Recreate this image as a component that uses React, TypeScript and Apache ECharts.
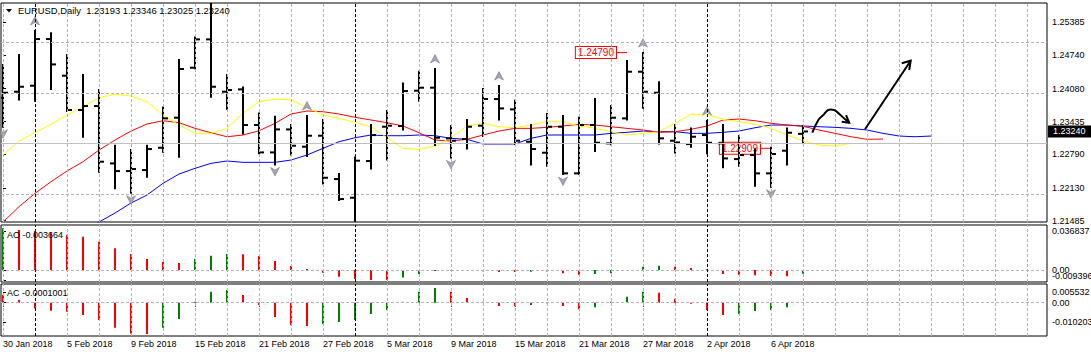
import React, { useEffect, useRef } from "react";
import * as echarts from "echarts";

const FONT = "'Liberation Sans', Arial, sans-serif";
const symbolName = "EURUSD";
const timeframe = "Daily";

const dates = [
  "30 Jan 2018", "31 Jan 2018", "1 Feb 2018", "2 Feb 2018", "5 Feb 2018", "6 Feb 2018", "7 Feb 2018", "8 Feb 2018",
  "9 Feb 2018", "12 Feb 2018", "13 Feb 2018", "14 Feb 2018", "15 Feb 2018", "16 Feb 2018", "19 Feb 2018", "20 Feb 2018",
  "21 Feb 2018", "22 Feb 2018", "23 Feb 2018", "26 Feb 2018", "27 Feb 2018", "28 Feb 2018", "1 Mar 2018", "2 Mar 2018",
  "5 Mar 2018", "6 Mar 2018", "7 Mar 2018", "8 Mar 2018", "9 Mar 2018", "12 Mar 2018", "13 Mar 2018", "14 Mar 2018",
  "15 Mar 2018", "16 Mar 2018", "19 Mar 2018", "20 Mar 2018", "21 Mar 2018", "22 Mar 2018", "23 Mar 2018", "26 Mar 2018",
  "27 Mar 2018", "28 Mar 2018", "29 Mar 2018", "30 Mar 2018", "2 Apr 2018", "3 Apr 2018", "4 Apr 2018", "5 Apr 2018",
  "6 Apr 2018", "9 Apr 2018", "10 Apr 2018",
];

const opens = [
  1.2390, 1.24021, 1.24139, 1.25056, 1.24336, 1.23661, 1.23739, 1.22612, 1.22461, 1.22481,
  1.22920, 1.23510, 1.24493, 1.25050, 1.24021, 1.24067, 1.23366, 1.22828, 1.23280, 1.22940,
  1.23156, 1.22304, 1.21937, 1.22658, 1.23333, 1.23346, 1.24041, 1.24100, 1.23104, 1.23091,
  1.23353, 1.23877, 1.23674, 1.23038, 1.22822, 1.23333, 1.22416, 1.23366, 1.23005, 1.23497,
  1.24414, 1.24001, 1.23058, 1.22992, 1.23169, 1.23005, 1.22697, 1.22776, 1.22416, 1.22861,
  1.23193,
];
const highs = [
  1.24545, 1.24742, 1.25214, 1.25168, 1.24742, 1.24349, 1.24054, 1.22959, 1.22874, 1.22959,
  1.23713, 1.24644, 1.25089, 1.25760, 1.24349, 1.24106, 1.23595, 1.23530, 1.23366, 1.23543,
  1.23464, 1.22402, 1.22730, 1.23366, 1.23641, 1.24185, 1.24414, 1.24467, 1.23346, 1.23464,
  1.24073, 1.24132, 1.23844, 1.23366, 1.23582, 1.23543, 1.23510, 1.23877, 1.23739, 1.24624,
  1.24780, 1.24205, 1.23366, 1.23300, 1.23444, 1.23366, 1.23150, 1.22887, 1.22920, 1.23300,
  1.23346,
];
const lows = [
  1.23333, 1.23870, 1.23844, 1.24073, 1.23641, 1.23136, 1.22448, 1.22121, 1.22036, 1.22350,
  1.22841, 1.22743, 1.24480, 1.23923, 1.23680, 1.23202, 1.22809, 1.22592, 1.22789, 1.22756,
  1.22219, 1.21891, 1.21490, 1.22514, 1.22691, 1.23280, 1.23844, 1.22973, 1.22730, 1.22907,
  1.23150, 1.23477, 1.22992, 1.22592, 1.22566, 1.22402, 1.22402, 1.22855, 1.22986, 1.23477,
  1.23707, 1.23005, 1.22828, 1.22940, 1.22809, 1.22534, 1.22566, 1.22173, 1.22153, 1.22592,
  1.23025,
];
const closes = [
  1.24001, 1.24119, 1.25056, 1.24558, 1.23661, 1.23739, 1.22645, 1.22461, 1.22501, 1.22894,
  1.23497, 1.24467, 1.25050, 1.24119, 1.24054, 1.23366, 1.22828, 1.23280, 1.22959, 1.23156,
  1.22330, 1.21911, 1.22665, 1.23169, 1.23353, 1.24034, 1.24100, 1.23117, 1.23058, 1.23333,
  1.23877, 1.23693, 1.23058, 1.22894, 1.23333, 1.22416, 1.23366, 1.23018, 1.23510, 1.24414,
  1.24021, 1.23104, 1.23025, 1.23136, 1.23018, 1.22710, 1.22776, 1.22416, 1.22796, 1.23215,
  1.23240,
];

// Alligator lines (shifted forward: lips 3, teeth 5, jaw 8 bars)
const lipsYellow = [
  1.22777, 1.23052, 1.23215, 1.23380, 1.23563, 1.23726, 1.23903, 1.23970, 1.23936, 1.23824,
  1.23563, 1.23366, 1.23203, 1.23203, 1.23301, 1.23596, 1.23824, 1.23877, 1.23858, 1.23714,
  1.23563, 1.23498, 1.23419, 1.23333, 1.23117, 1.22908, 1.22889, 1.22953, 1.23117, 1.23347,
  1.23400, 1.23333, 1.23313, 1.23366, 1.23431, 1.23431, 1.23347, 1.23301, 1.23235, 1.23170,
  1.23203, 1.23235, 1.23400, 1.23577, 1.23577, 1.23478, 1.23431, 1.23380, 1.23301, 1.23170,
  1.23058, 1.22973, 1.22953, 1.23007,
];
const teethRed = [
  1.21459, 1.21760, 1.22024, 1.22252, 1.22462, 1.22645, 1.22875, 1.23071, 1.23248, 1.23386,
  1.23451, 1.23412, 1.23301, 1.23215, 1.23136, 1.23170, 1.23254, 1.23400, 1.23583, 1.23642,
  1.23628, 1.23583, 1.23518, 1.23465, 1.23412, 1.23347, 1.23215, 1.23071, 1.23052, 1.23085,
  1.23170, 1.23248, 1.23301, 1.23301, 1.23321, 1.23347, 1.23380, 1.23366, 1.23333, 1.23301,
  1.23268, 1.23223, 1.23235, 1.23282, 1.23347, 1.23465, 1.23484, 1.23451, 1.23400, 1.23366,
  1.23341, 1.23268, 1.23203, 1.23136, 1.23085, 1.23091,
];
const jawBlue = [
  null, null, null, null, null, 1.21302, 1.21459, 1.21636, 1.21833, 1.21990,
  1.22220, 1.22403, 1.22515, 1.22613, 1.22659, 1.22633, 1.22633, 1.22633, 1.22678, 1.22777,
  1.22908, 1.23038, 1.23117, 1.23170, 1.23156, 1.23156, 1.23170, 1.23156, 1.23105, 1.23085,
  1.22993, 1.22993, 1.22993, 1.23105, 1.23170, 1.23170, 1.23170, 1.23170, 1.23203, 1.23223,
  1.23248, 1.23235, 1.23235, 1.23203, 1.23203, 1.23223, 1.23248, 1.23313, 1.23366, 1.23366,
  1.23347, 1.23333, 1.23321, 1.23301, 1.23268, 1.23203, 1.23150, 1.23136, 1.23150,
];

const aoValues = [
  0.0394, 0.0378, 0.0368, 0.0350, 0.0331, 0.0315, 0.0267, 0.0205, 0.0151, 0.0104,
  0.0076, 0.0066, 0.0104, 0.0135, 0.0151, 0.0149, 0.0132, 0.0085, 0.0038, 0.0009,
  -0.0026, -0.0063, -0.0085, -0.0094, -0.0095, -0.0072, -0.0038, -0.0009, -0.0005, -0.0009,
  -0.0013, -0.0019, -0.0020, -0.0016, -0.0014, -0.0031, -0.0047, -0.0038, -0.0031, -0.0006,
  0.0031, 0.0041, 0.0031, 0.0019, 0.0006, -0.0038, -0.0047, -0.0049, -0.0057, -0.0058,
  -0.003664,
];
const acValues = [
  0.0040, 0.0014, -0.0030, -0.0042, -0.0047, -0.0065, -0.0091, -0.0131, -0.0161, -0.0164,
  -0.0131, -0.0086, 0.0005, 0.0058, 0.0066, 0.0040, -0.0012, -0.0075, -0.0117, -0.0122,
  -0.0112, -0.0101, -0.0091, -0.0059, -0.0038, 0.0005, 0.0058, 0.0077, 0.0058, 0.0024,
  0.0005, -0.0017, -0.0018, -0.0012, -0.0003, -0.0017, -0.0035, -0.0024, 0.0005, 0.0031,
  0.0058, 0.0052, 0.0021, -0.0005, -0.0038, -0.0065, -0.0059, -0.0044, -0.0038, -0.0024,
  -0.0001001,
];
const aoFirstRising = true;
const acFirstRising = false;

const priceTicks = [1.21485, 1.2213, 1.2279, 1.23435, 1.2408, 1.2474, 1.25385];
const aoScaleLabels = ["0.036837", "0.00", "-0.009396"];
const acScaleLabels = ["0.005532", "0.00", "-0.010203"];

const upFractals = [2, 13, 19, 27, 31, 40, 44];
const downFractals = [0, 8, 17, 22, 28, 35, 48];

const priceMarks = [
  [39, 1.2479],
  [48, 1.22909],
];

const curvedArrow = [
  [50.58, 1.23215], [50.96, 1.23465], [51.27, 1.23563], [51.58, 1.23662],
  [51.94, 1.23662], [52.27, 1.23582], [52.63, 1.23479], [52.89, 1.23412],
];
const curvedArrowHead = [[52.69, 1.23563], [52.89, 1.23412], [52.42, 1.23432]];
const straightArrow = [[53.875, 1.23282], [56.73, 1.24631]];
const straightArrowHead = [[56.17, 1.2458], [56.73, 1.24631], [56.64, 1.24448]];

const GREEN = "#008000";
const RED = "#ff0000";
const GRID_COLOR = "#b4b4b4";

export default function App() {
  const ref = useRef<HTMLDivElement>(null);

  useEffect(() => {
    const chart = echarts.init(ref.current!, null, { renderer: "svg" });
    const last = closes.length - 1;

    const xMin = -0.125;
    const xMax = 65.25;
    const vGrid: number[] = [];
    for (let k = 0; k <= 64; k += 2) vGrid.push(k);
    const xLabelIdx: number[] = [];
    for (let k = 0; k < dates.length; k += 4) xLabelIdx.push(k);
    const separators: number[] = [];
    for (let k = 1; k < dates.length; k++) {
      if (dates[k].split(" ")[1] !== dates[k - 1].split(" ")[1]) separators.push(k);
    }

    const aoScaleValues = aoScaleLabels.map(Number);
    const acScaleValues = acScaleLabels.map(Number);
    const aoRange = [-0.01134, 0.0425];
    const acRange = [-0.01747, 0.00981];

    const barColors = (vals: number[], firstRising: boolean) =>
      vals.map((v, i) => ((i === 0 ? firstRising : v > vals[i - 1]) ? GREEN : RED));
    const aoColors = barColors(aoValues, aoFirstRising);
    const acColors = barColors(acValues, acFirstRising);

    const gridLineSeries = (gi: number, yLevels: number[], extra: any[] = []) => ({
      type: "line",
      xAxisIndex: gi,
      yAxisIndex: gi,
      data: [],
      silent: true,
      z: 1,
      markLine: {
        silent: true,
        symbol: ["none", "none"],
        animation: false,
        label: { show: false },
        lineStyle: { color: GRID_COLOR, type: [3, 2], width: 1 },
        data: [
          ...vGrid.map((k) => ({ xAxis: k })),
          ...yLevels.map((v) => ({ yAxis: v })),
          ...separators.map((k) => ({ xAxis: k, lineStyle: { color: "#000", type: [3, 2], width: 1 } })),
          ...extra,
        ],
      },
    });

    // scale labels of the sub windows, kept inside their panel like the terminal does
    const scaleLabelSeries = (gi: number, values: number[], labels: string[], range: number[]) => ({
      type: "custom",
      xAxisIndex: gi,
      yAxisIndex: gi,
      clip: false,
      silent: true,
      z: 6,
      encode: { x: 0, y: 1 },
      data: values.map((v, i) => [xMax, v, i]),
      renderItem: (params: any, api: any) => {
        const p = api.coord([api.value(0), api.value(1)]);
        const top = api.coord([xMax, range[1]])[1];
        const bottom = api.coord([xMax, range[0]])[1];
        const y = Math.max(top + 6, Math.min(bottom - 6, p[1]));
        return {
          type: "text",
          x: p[0] + 5,
          y,
          style: {
            text: labels[api.value(2)],
            font: `9px ${FONT}`,
            fill: "#000",
            align: "left",
            verticalAlign: "middle",
          },
        };
      },
    });

    const xAxisBase = (gi: number) => ({
      type: "value",
      gridIndex: gi,
      min: xMin,
      max: xMax,
      show: false,
    });

    const labelStyle = { color: "#000", fontSize: 9, fontFamily: FONT };

    const subYAxis = (gi: number, range: number[], ticks: number[]) => ({
      type: "value",
      gridIndex: gi,
      position: "right",
      min: range[0],
      max: range[1],
      axisLine: { show: false },
      splitLine: { show: false },
      axisTick: { show: true, customValues: ticks, length: 3, lineStyle: { color: "#000" } },
      axisLabel: { show: false },
    });

    const option: any = {
      animation: false,
      backgroundColor: "#fff",
      textStyle: { fontFamily: FONT },
      grid: [
        { left: 1, top: 3, width: 1046, height: 219, show: true, borderColor: "#000", borderWidth: 1 },
        { left: 1, top: 225, width: 1046, height: 57, show: true, borderColor: "#000", borderWidth: 1 },
        { left: 1, top: 284, width: 1046, height: 52, show: true, borderColor: "#000", borderWidth: 1 },
      ],
      xAxis: [
        xAxisBase(0),
        xAxisBase(1),
        {
          ...xAxisBase(2),
          show: true,
          axisLine: { show: false },
          splitLine: { show: false },
          axisTick: { show: true, customValues: xLabelIdx, length: 4, lineStyle: { color: "#000" } },
          axisLabel: {
            ...labelStyle,
            customValues: xLabelIdx,
            formatter: (v: number) => dates[Math.round(v)] ?? "",
            align: "left",
            margin: 3,
            showMinLabel: true,
            showMaxLabel: true,
          },
        },
      ],
      yAxis: [
        {
          type: "value",
          gridIndex: 0,
          position: "right",
          min: 1.2146,
          max: 1.25765,
          axisLine: { show: false },
          splitLine: { show: false },
          axisTick: { show: true, customValues: priceTicks, length: 3, lineStyle: { color: "#000" } },
          axisLabel: {
            ...labelStyle,
            customValues: priceTicks,
            formatter: (v: number) => v.toFixed(5),
            margin: 5,
            showMinLabel: true,
            showMaxLabel: true,
          },
        },
        subYAxis(1, aoRange, aoScaleValues),
        subYAxis(2, acRange, acScaleValues),
      ],
      graphic: [
        { type: "polygon", shape: { points: [[6, 9], [12, 9], [9, 12.5]] }, style: { fill: "#000" } },
        {
          type: "text",
          x: 18,
          y: 10,
          style: {
            text: `${symbolName},${timeframe}  ${opens[last].toFixed(5)} ${highs[last].toFixed(5)} ${lows[last].toFixed(5)} ${closes[last].toFixed(5)}`,
            font: `9.4px ${FONT}`,
            fill: "#000",
            verticalAlign: "middle",
          },
        },
        {
          type: "text",
          x: 7,
          y: 235,
          style: { text: `AO ${aoValues[last].toFixed(6)}`, font: `9px ${FONT}`, fill: "#000", verticalAlign: "middle" },
          z: 10,
        },
        {
          type: "text",
          x: 7,
          y: 293,
          style: { text: `AC ${acValues[last].toFixed(7)}`, font: `9px ${FONT}`, fill: "#000", verticalAlign: "middle" },
          z: 10,
        },
      ],
      series: [
        gridLineSeries(0, priceTicks, [
          { yAxis: closes[last], lineStyle: { color: "#c0c0c0", type: "solid", width: 1 } },
        ]),
        gridLineSeries(1, [0]),
        gridLineSeries(2, [0]),
        scaleLabelSeries(1, aoScaleValues, aoScaleLabels, aoRange),
        scaleLabelSeries(2, acScaleValues, acScaleLabels, acRange),
        {
          type: "custom",
          xAxisIndex: 0,
          yAxisIndex: 0,
          clip: false,
          silent: true,
          z: 6,
          encode: { x: 0, y: 1 },
          data: [[xMax, closes[last]]],
          renderItem: (params: any, api: any) => {
            const p = api.coord([api.value(0), api.value(1)]);
            return {
              type: "text",
              x: p[0] + 1,
              y: p[1],
              style: {
                text: closes[last].toFixed(5),
                font: `9px ${FONT}`,
                fill: "#fff",
                align: "left",
                verticalAlign: "middle",
                backgroundColor: "#000",
                padding: [2, 6, 1, 5],
              },
            };
          },
        },
        {
          type: "line",
          xAxisIndex: 0,
          yAxisIndex: 0,
          data: jawBlue.map((v, i) => [i, v]),
          showSymbol: false,
          lineStyle: { color: "#0000ff", width: 1 },
          silent: true,
          z: 2,
          clip: true,
        },
        {
          type: "line",
          xAxisIndex: 0,
          yAxisIndex: 0,
          data: teethRed.map((v, i) => [i, v]),
          showSymbol: false,
          lineStyle: { color: "#ff0000", width: 1 },
          silent: true,
          z: 2,
          clip: true,
        },
        {
          type: "line",
          xAxisIndex: 0,
          yAxisIndex: 0,
          data: lipsYellow.map((v, i) => [i, v]),
          showSymbol: false,
          lineStyle: { color: "#ffff00", width: 1 },
          silent: true,
          z: 2,
          clip: true,
        },
        {
          type: "custom",
          xAxisIndex: 0,
          yAxisIndex: 0,
          silent: true,
          z: 2,
          encode: { x: 0, y: 1 },
          data: priceMarks,
          renderItem: (params: any, api: any) => {
            const price = api.value(1);
            const p = api.coord([api.value(0), price]);
            return {
              type: "group",
              children: [
                { type: "line", shape: { x1: p[0] - 10, y1: p[1], x2: p[0], y2: p[1] }, style: { stroke: RED, lineWidth: 1 } },
                {
                  type: "text",
                  x: p[0] - 11,
                  y: p[1],
                  style: {
                    text: price.toFixed(5),
                    font: `10px ${FONT}`,
                    fill: RED,
                    align: "right",
                    verticalAlign: "middle",
                    backgroundColor: "#fff",
                    borderColor: RED,
                    borderWidth: 1,
                    padding: [1, 2, 0, 2],
                  },
                },
              ],
            };
          },
        },
        {
          type: "custom",
          xAxisIndex: 0,
          yAxisIndex: 0,
          clip: true,
          silent: true,
          z: 3,
          encode: { x: 0, y: [1, 2, 3, 4] },
          data: closes.map((c, i) => [i, opens[i], highs[i], lows[i], c]),
          renderItem: (params: any, api: any) => {
            const k = api.value(0);
            const o = api.coord([k, api.value(1)]);
            const h = api.coord([k, api.value(2)]);
            const l = api.coord([k, api.value(3)]);
            const c = api.coord([k, api.value(4)]);
            const x = o[0];
            const st = { stroke: "#000", lineWidth: 2 };
            return {
              type: "group",
              children: [
                { type: "line", shape: { x1: x, y1: h[1] - 1, x2: x, y2: l[1] + 1 }, style: st },
                { type: "line", shape: { x1: x - 5, y1: o[1], x2: x, y2: o[1] }, style: st },
                { type: "line", shape: { x1: x, y1: c[1], x2: x + 5, y2: c[1] }, style: st },
              ],
            };
          },
        },
        {
          type: "custom",
          xAxisIndex: 0,
          yAxisIndex: 0,
          clip: true,
          silent: true,
          z: 4,
          encode: { x: 0, y: 1 },
          data: [
            ...upFractals.map((k) => [k, highs[k], 1]),
            ...downFractals.map((k) => [k, lows[k], -1]),
          ],
          renderItem: (params: any, api: any) => {
            const p = api.coord([api.value(0), api.value(1)]);
            const dir = api.value(2);
            const x = p[0];
            const yc = dir > 0 ? p[1] - 10 : p[1] + 7;
            const s = dir > 0 ? 1 : -1;
            return {
              type: "polygon",
              shape: {
                points: [
                  [x, yc - 4.5 * s],
                  [x + 4.5, yc + 4 * s],
                  [x, yc + 1.5 * s],
                  [x - 4.5, yc + 4 * s],
                ],
              },
              style: { fill: "#a4a4b4", stroke: "#7a7a8a", lineWidth: 0.6 },
            };
          },
        },
        {
          type: "custom",
          xAxisIndex: 0,
          yAxisIndex: 0,
          silent: true,
          z: 6,
          encode: { x: 0, y: 1 },
          data: [[curvedArrow[0][0], curvedArrow[0][1]]],
          renderItem: (params: any, api: any) => {
            const pts = (arr: number[][]) => arr.map((q) => api.coord(q));
            const st = { stroke: "#000", lineWidth: 2, fill: "none" };
            return {
              type: "group",
              children: [
                { type: "polyline", shape: { points: pts(curvedArrow), smooth: 0.4 }, style: st },
                { type: "polyline", shape: { points: pts(curvedArrowHead) }, style: st },
                { type: "polyline", shape: { points: pts(straightArrow) }, style: st },
                { type: "polyline", shape: { points: pts(straightArrowHead) }, style: st },
              ],
            };
          },
        },
        {
          type: "bar",
          xAxisIndex: 1,
          yAxisIndex: 1,
          barWidth: 2,
          silent: true,
          z: 3,
          data: aoValues.map((v, i) => ({ value: [i, v], itemStyle: { color: aoColors[i] } })),
        },
        {
          type: "bar",
          xAxisIndex: 2,
          yAxisIndex: 2,
          barWidth: 2,
          silent: true,
          z: 3,
          data: acValues.map((v, i) => ({ value: [i, v], itemStyle: { color: acColors[i] } })),
        },
      ],
    };

    chart.setOption(option);
    return () => chart.dispose();
  }, []);

  return (
    <div
      ref={ref}
      style={{ position: "fixed", left: 0, top: 0, width: 1091, height: 357, background: "#fff" }}
    />
  );
}
